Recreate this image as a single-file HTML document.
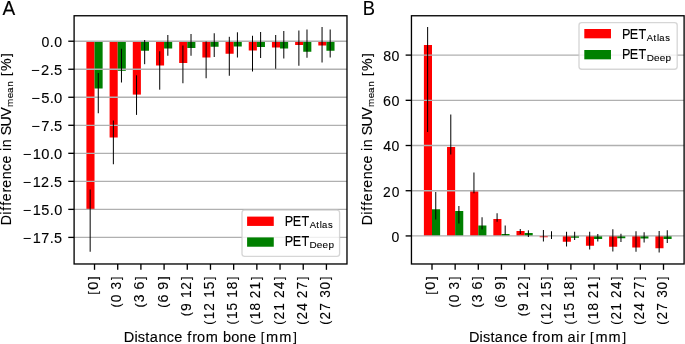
<!DOCTYPE html>
<html><head><meta charset="utf-8"><style>html,body{margin:0;padding:0;background:#fff;width:685px;height:344px;overflow:hidden}svg{display:block;will-change:transform}</style></head><body>
<svg width="685" height="344" viewBox="0 0 685 344" font-family="Liberation Sans, sans-serif" fill="#000"><style>text{stroke:#000;stroke-width:0.12px}</style>
<rect width="685" height="344" fill="#fff"/>
<rect x="86.41" y="41.22" width="8.11" height="168.78" fill="#ff0000"/>
<rect x="94.52" y="41.22" width="8.11" height="47.28" fill="#008000"/>
<rect x="109.60" y="41.22" width="8.11" height="96.28" fill="#ff0000"/>
<rect x="117.71" y="41.22" width="8.11" height="29.58" fill="#008000"/>
<rect x="132.79" y="41.22" width="8.11" height="53.38" fill="#ff0000"/>
<rect x="140.90" y="41.22" width="8.11" height="9.53" fill="#008000"/>
<rect x="155.98" y="41.22" width="8.11" height="24.28" fill="#ff0000"/>
<rect x="164.09" y="41.22" width="8.11" height="7.28" fill="#008000"/>
<rect x="179.17" y="41.22" width="8.11" height="21.78" fill="#ff0000"/>
<rect x="187.28" y="41.22" width="8.11" height="6.78" fill="#008000"/>
<rect x="202.36" y="41.22" width="8.11" height="16.28" fill="#ff0000"/>
<rect x="210.47" y="41.22" width="8.11" height="5.53" fill="#008000"/>
<rect x="225.55" y="41.22" width="8.11" height="12.53" fill="#ff0000"/>
<rect x="233.66" y="41.22" width="8.11" height="5.28" fill="#008000"/>
<rect x="248.74" y="41.22" width="8.11" height="9.28" fill="#ff0000"/>
<rect x="256.85" y="41.22" width="8.11" height="5.78" fill="#008000"/>
<rect x="271.93" y="41.22" width="8.11" height="6.28" fill="#ff0000"/>
<rect x="280.04" y="41.22" width="8.11" height="7.28" fill="#008000"/>
<rect x="295.12" y="41.22" width="8.11" height="3.78" fill="#ff0000"/>
<rect x="303.23" y="41.22" width="8.11" height="10.53" fill="#008000"/>
<rect x="318.31" y="41.22" width="8.11" height="4.28" fill="#ff0000"/>
<rect x="326.42" y="41.22" width="8.11" height="9.53" fill="#008000"/>
<line x1="74.10" y1="41.22" x2="346.98" y2="41.22" stroke="#b0b0b0" stroke-width="1.33"/>
<line x1="74.10" y1="69.25" x2="346.98" y2="69.25" stroke="#b0b0b0" stroke-width="1.33"/>
<line x1="74.10" y1="97.27" x2="346.98" y2="97.27" stroke="#b0b0b0" stroke-width="1.33"/>
<line x1="74.10" y1="125.30" x2="346.98" y2="125.30" stroke="#b0b0b0" stroke-width="1.33"/>
<line x1="74.10" y1="153.32" x2="346.98" y2="153.32" stroke="#b0b0b0" stroke-width="1.33"/>
<line x1="74.10" y1="181.34" x2="346.98" y2="181.34" stroke="#b0b0b0" stroke-width="1.33"/>
<line x1="74.10" y1="209.37" x2="346.98" y2="209.37" stroke="#b0b0b0" stroke-width="1.33"/>
<line x1="74.10" y1="237.40" x2="346.98" y2="237.40" stroke="#b0b0b0" stroke-width="1.33"/>
<line x1="90.17" y1="189.50" x2="90.17" y2="251.75" stroke="#000" stroke-width="1"/>
<line x1="98.27" y1="73.00" x2="98.27" y2="113.25" stroke="#000" stroke-width="1"/>
<line x1="113.36" y1="120.50" x2="113.36" y2="164.25" stroke="#000" stroke-width="1"/>
<line x1="121.46" y1="48.75" x2="121.46" y2="82.50" stroke="#000" stroke-width="1"/>
<line x1="136.54" y1="75.30" x2="136.54" y2="114.90" stroke="#000" stroke-width="1"/>
<line x1="144.66" y1="40.00" x2="144.66" y2="64.20" stroke="#000" stroke-width="1"/>
<line x1="159.73" y1="51.25" x2="159.73" y2="89.70" stroke="#000" stroke-width="1"/>
<line x1="167.84" y1="35.00" x2="167.84" y2="55.75" stroke="#000" stroke-width="1"/>
<line x1="182.92" y1="45.50" x2="182.92" y2="83.25" stroke="#000" stroke-width="1"/>
<line x1="191.03" y1="34.00" x2="191.03" y2="55.75" stroke="#000" stroke-width="1"/>
<line x1="206.11" y1="41.50" x2="206.11" y2="78.25" stroke="#000" stroke-width="1"/>
<line x1="214.22" y1="33.25" x2="214.22" y2="57.00" stroke="#000" stroke-width="1"/>
<line x1="229.31" y1="36.80" x2="229.31" y2="75.75" stroke="#000" stroke-width="1"/>
<line x1="237.42" y1="32.30" x2="237.42" y2="57.50" stroke="#000" stroke-width="1"/>
<line x1="252.50" y1="35.75" x2="252.50" y2="71.50" stroke="#000" stroke-width="1"/>
<line x1="260.61" y1="32.00" x2="260.61" y2="58.00" stroke="#000" stroke-width="1"/>
<line x1="275.69" y1="35.00" x2="275.69" y2="68.75" stroke="#000" stroke-width="1"/>
<line x1="283.80" y1="31.00" x2="283.80" y2="58.50" stroke="#000" stroke-width="1"/>
<line x1="298.88" y1="30.50" x2="298.88" y2="65.75" stroke="#000" stroke-width="1"/>
<line x1="306.99" y1="29.50" x2="306.99" y2="57.75" stroke="#000" stroke-width="1"/>
<line x1="322.06" y1="27.00" x2="322.06" y2="62.50" stroke="#000" stroke-width="1"/>
<line x1="330.18" y1="29.50" x2="330.18" y2="57.50" stroke="#000" stroke-width="1"/>
<rect x="74.10" y="15.76" width="272.88" height="248.22" fill="none" stroke="#000" stroke-width="1.33"/>
<line x1="68.27" y1="41.22" x2="74.10" y2="41.22" stroke="#000" stroke-width="1.33"/>
<line x1="68.27" y1="69.25" x2="74.10" y2="69.25" stroke="#000" stroke-width="1.33"/>
<line x1="68.27" y1="97.27" x2="74.10" y2="97.27" stroke="#000" stroke-width="1.33"/>
<line x1="68.27" y1="125.30" x2="74.10" y2="125.30" stroke="#000" stroke-width="1.33"/>
<line x1="68.27" y1="153.32" x2="74.10" y2="153.32" stroke="#000" stroke-width="1.33"/>
<line x1="68.27" y1="181.34" x2="74.10" y2="181.34" stroke="#000" stroke-width="1.33"/>
<line x1="68.27" y1="209.37" x2="74.10" y2="209.37" stroke="#000" stroke-width="1.33"/>
<line x1="68.27" y1="237.40" x2="74.10" y2="237.40" stroke="#000" stroke-width="1.33"/>
<line x1="94.52" y1="263.98" x2="94.52" y2="269.81" stroke="#000" stroke-width="1.33"/>
<line x1="117.71" y1="263.98" x2="117.71" y2="269.81" stroke="#000" stroke-width="1.33"/>
<line x1="140.90" y1="263.98" x2="140.90" y2="269.81" stroke="#000" stroke-width="1.33"/>
<line x1="164.09" y1="263.98" x2="164.09" y2="269.81" stroke="#000" stroke-width="1.33"/>
<line x1="187.28" y1="263.98" x2="187.28" y2="269.81" stroke="#000" stroke-width="1.33"/>
<line x1="210.47" y1="263.98" x2="210.47" y2="269.81" stroke="#000" stroke-width="1.33"/>
<line x1="233.66" y1="263.98" x2="233.66" y2="269.81" stroke="#000" stroke-width="1.33"/>
<line x1="256.85" y1="263.98" x2="256.85" y2="269.81" stroke="#000" stroke-width="1.33"/>
<line x1="280.04" y1="263.98" x2="280.04" y2="269.81" stroke="#000" stroke-width="1.33"/>
<line x1="303.23" y1="263.98" x2="303.23" y2="269.81" stroke="#000" stroke-width="1.33"/>
<line x1="326.42" y1="263.98" x2="326.42" y2="269.81" stroke="#000" stroke-width="1.33"/>
<rect x="423.89" y="45.00" width="8.11" height="190.93" fill="#ff0000"/>
<rect x="432.00" y="209.25" width="8.11" height="26.68" fill="#008000"/>
<rect x="447.04" y="147.00" width="8.11" height="88.93" fill="#ff0000"/>
<rect x="455.15" y="211.00" width="8.11" height="24.93" fill="#008000"/>
<rect x="470.19" y="191.25" width="8.11" height="44.68" fill="#ff0000"/>
<rect x="478.30" y="225.50" width="8.11" height="10.43" fill="#008000"/>
<rect x="493.34" y="219.00" width="8.11" height="16.93" fill="#ff0000"/>
<rect x="501.45" y="234.00" width="8.11" height="1.93" fill="#008000"/>
<rect x="516.49" y="231.00" width="8.11" height="4.93" fill="#ff0000"/>
<rect x="524.60" y="233.00" width="8.11" height="2.93" fill="#008000"/>
<rect x="539.64" y="235.93" width="8.11" height="1.32" fill="#ff0000"/>
<rect x="547.75" y="235.80" width="8.11" height="0.13" fill="#008000"/>
<rect x="562.79" y="235.93" width="8.11" height="5.82" fill="#ff0000"/>
<rect x="570.90" y="235.93" width="8.11" height="1.82" fill="#008000"/>
<rect x="585.94" y="235.93" width="8.11" height="9.82" fill="#ff0000"/>
<rect x="594.05" y="235.93" width="8.11" height="3.07" fill="#008000"/>
<rect x="609.09" y="235.93" width="8.11" height="10.82" fill="#ff0000"/>
<rect x="617.20" y="235.93" width="8.11" height="2.32" fill="#008000"/>
<rect x="632.24" y="235.93" width="8.11" height="11.57" fill="#ff0000"/>
<rect x="640.35" y="235.93" width="8.11" height="2.57" fill="#008000"/>
<rect x="655.39" y="235.93" width="8.11" height="12.32" fill="#ff0000"/>
<rect x="663.50" y="235.93" width="8.11" height="3.07" fill="#008000"/>
<line x1="411.45" y1="235.93" x2="684.10" y2="235.93" stroke="#b0b0b0" stroke-width="1.33"/>
<line x1="411.45" y1="190.72" x2="684.10" y2="190.72" stroke="#b0b0b0" stroke-width="1.33"/>
<line x1="411.45" y1="145.51" x2="684.10" y2="145.51" stroke="#b0b0b0" stroke-width="1.33"/>
<line x1="411.45" y1="100.31" x2="684.10" y2="100.31" stroke="#b0b0b0" stroke-width="1.33"/>
<line x1="411.45" y1="55.10" x2="684.10" y2="55.10" stroke="#b0b0b0" stroke-width="1.33"/>
<line x1="427.64" y1="27.00" x2="427.64" y2="132.00" stroke="#000" stroke-width="1"/>
<line x1="435.75" y1="192.00" x2="435.75" y2="219.50" stroke="#000" stroke-width="1"/>
<line x1="450.79" y1="114.50" x2="450.79" y2="154.50" stroke="#000" stroke-width="1"/>
<line x1="458.90" y1="206.00" x2="458.90" y2="223.50" stroke="#000" stroke-width="1"/>
<line x1="473.94" y1="172.50" x2="473.94" y2="193.25" stroke="#000" stroke-width="1"/>
<line x1="482.06" y1="217.25" x2="482.06" y2="229.50" stroke="#000" stroke-width="1"/>
<line x1="497.09" y1="213.25" x2="497.09" y2="221.75" stroke="#000" stroke-width="1"/>
<line x1="505.20" y1="225.50" x2="505.20" y2="235.00" stroke="#000" stroke-width="1"/>
<line x1="520.25" y1="229.00" x2="520.25" y2="234.00" stroke="#000" stroke-width="1"/>
<line x1="528.36" y1="230.30" x2="528.36" y2="237.00" stroke="#000" stroke-width="1"/>
<line x1="543.40" y1="230.00" x2="543.40" y2="241.50" stroke="#000" stroke-width="1"/>
<line x1="551.50" y1="231.25" x2="551.50" y2="239.00" stroke="#000" stroke-width="1"/>
<line x1="566.55" y1="231.75" x2="566.55" y2="246.50" stroke="#000" stroke-width="1"/>
<line x1="574.65" y1="231.75" x2="574.65" y2="240.00" stroke="#000" stroke-width="1"/>
<line x1="589.70" y1="231.75" x2="589.70" y2="249.50" stroke="#000" stroke-width="1"/>
<line x1="597.80" y1="234.00" x2="597.80" y2="241.50" stroke="#000" stroke-width="1"/>
<line x1="612.85" y1="229.25" x2="612.85" y2="251.50" stroke="#000" stroke-width="1"/>
<line x1="620.96" y1="233.75" x2="620.96" y2="242.00" stroke="#000" stroke-width="1"/>
<line x1="636.00" y1="231.25" x2="636.00" y2="251.75" stroke="#000" stroke-width="1"/>
<line x1="644.11" y1="232.25" x2="644.11" y2="242.50" stroke="#000" stroke-width="1"/>
<line x1="659.15" y1="231.00" x2="659.15" y2="252.50" stroke="#000" stroke-width="1"/>
<line x1="667.25" y1="230.25" x2="667.25" y2="243.00" stroke="#000" stroke-width="1"/>
<rect x="411.45" y="15.76" width="272.65" height="248.22" fill="none" stroke="#000" stroke-width="1.33"/>
<line x1="405.62" y1="235.93" x2="411.45" y2="235.93" stroke="#000" stroke-width="1.33"/>
<line x1="405.62" y1="190.72" x2="411.45" y2="190.72" stroke="#000" stroke-width="1.33"/>
<line x1="405.62" y1="145.51" x2="411.45" y2="145.51" stroke="#000" stroke-width="1.33"/>
<line x1="405.62" y1="100.31" x2="411.45" y2="100.31" stroke="#000" stroke-width="1.33"/>
<line x1="405.62" y1="55.10" x2="411.45" y2="55.10" stroke="#000" stroke-width="1.33"/>
<line x1="432.00" y1="263.98" x2="432.00" y2="269.81" stroke="#000" stroke-width="1.33"/>
<line x1="455.15" y1="263.98" x2="455.15" y2="269.81" stroke="#000" stroke-width="1.33"/>
<line x1="478.30" y1="263.98" x2="478.30" y2="269.81" stroke="#000" stroke-width="1.33"/>
<line x1="501.45" y1="263.98" x2="501.45" y2="269.81" stroke="#000" stroke-width="1.33"/>
<line x1="524.60" y1="263.98" x2="524.60" y2="269.81" stroke="#000" stroke-width="1.33"/>
<line x1="547.75" y1="263.98" x2="547.75" y2="269.81" stroke="#000" stroke-width="1.33"/>
<line x1="570.90" y1="263.98" x2="570.90" y2="269.81" stroke="#000" stroke-width="1.33"/>
<line x1="594.05" y1="263.98" x2="594.05" y2="269.81" stroke="#000" stroke-width="1.33"/>
<line x1="617.20" y1="263.98" x2="617.20" y2="269.81" stroke="#000" stroke-width="1.33"/>
<line x1="640.35" y1="263.98" x2="640.35" y2="269.81" stroke="#000" stroke-width="1.33"/>
<line x1="663.50" y1="263.98" x2="663.50" y2="269.81" stroke="#000" stroke-width="1.33"/>
<text transform="translate(98.12,295.05) rotate(-90) scale(1.0355,1)"><tspan x="0.26" font-size="12.75" dy="-0.89">[</tspan><tspan x="5.23" font-size="14.13" dy="0.89">0</tspan><tspan x="14.50" font-size="12.75" dy="-0.89">]</tspan></text>
<text transform="translate(121.30,307.80) rotate(-90) scale(0.9743,1)"><tspan x="0.23" font-size="12.75" dy="-0.89">(</tspan><tspan x="5.81 14.11 18.91" font-size="14.13" dy="0.89">0&#160;3</tspan><tspan x="28.58" font-size="12.75" dy="-0.89">]</tspan></text>
<text transform="translate(144.49,307.80) rotate(-90) scale(0.9859,1)"><tspan x="0.20" font-size="12.75" dy="-0.89">(</tspan><tspan x="5.71 13.95 18.63" font-size="14.13" dy="0.89">3&#160;6</tspan><tspan x="28.23" font-size="12.75" dy="-0.89">]</tspan></text>
<text transform="translate(167.67,307.92) rotate(-90) scale(1.0110,1)"><tspan x="0.13" font-size="12.75" dy="-0.89">(</tspan><tspan x="5.46 13.60 18.03" font-size="14.13" dy="0.89">6&#160;9</tspan><tspan x="27.62" font-size="12.75" dy="-0.89">]</tspan></text>
<text transform="translate(190.86,316.55) rotate(-90) scale(0.9779,1)"><tspan x="0.22" font-size="12.75" dy="-0.89">(</tspan><tspan x="5.73 14.19 18.87 27.45" font-size="14.13" dy="0.89">9&#160;12</tspan><tspan x="37.42" font-size="12.75" dy="-0.89">]</tspan></text>
<text transform="translate(214.04,324.92) rotate(-90) scale(0.9537,1)"><tspan x="0.29" font-size="12.75" dy="-0.89">(</tspan><tspan x="5.95 14.75 23.46 28.37 37.29" font-size="14.13" dy="0.89">12&#160;15</tspan><tspan x="47.18" font-size="12.75" dy="-0.89">]</tspan></text>
<text transform="translate(237.22,324.67) rotate(-90) scale(0.9636,1)"><tspan x="0.26" font-size="12.75" dy="-0.89">(</tspan><tspan x="5.85 14.69 23.09 27.90 36.79" font-size="14.13" dy="0.89">15&#160;18</tspan><tspan x="46.42" font-size="12.75" dy="-0.89">]</tspan></text>
<text transform="translate(260.41,324.80) rotate(-90) scale(0.9680,1)"><tspan x="0.25" font-size="12.75" dy="-0.89">(</tspan><tspan x="5.80 14.66 22.86 27.52 36.54" font-size="14.13" dy="0.89">18&#160;21</tspan><tspan x="46.34" font-size="12.75" dy="-0.89">]</tspan></text>
<text transform="translate(283.59,324.92) rotate(-90) scale(0.9677,1)"><tspan x="0.25" font-size="12.75" dy="-0.89">(</tspan><tspan x="5.69 14.72 23.12 27.78 36.87" font-size="14.13" dy="0.89">21&#160;24</tspan><tspan x="46.48" font-size="12.75" dy="-0.89">]</tspan></text>
<text transform="translate(306.78,324.92) rotate(-90) scale(0.9721,1)"><tspan x="0.24" font-size="12.75" dy="-0.89">(</tspan><tspan x="5.65 14.70 22.89 27.51 36.54" font-size="14.13" dy="0.89">24&#160;27</tspan><tspan x="46.26" font-size="12.75" dy="-0.89">]</tspan></text>
<text transform="translate(329.96,324.92) rotate(-90) scale(0.9710,1)"><tspan x="0.24" font-size="12.75" dy="-0.89">(</tspan><tspan x="5.66 14.70 23.04 27.87 36.61" font-size="14.13" dy="0.89">27&#160;30</tspan><tspan x="46.32" font-size="12.75" dy="-0.89">]</tspan></text>
<text transform="translate(123.91,342.09) scale(1.0309,1)"><tspan x="-0.11 10.18 13.51 20.79 25.00 33.66 41.58 48.94 56.87 61.47 66.26 70.96 79.39 91.67 96.04 104.07 112.24 120.36 128.29" font-size="14.13">Distance&#160;from&#160;bone&#160;</tspan><tspan x="132.68" font-size="12.75" dy="-0.89">[</tspan><tspan x="137.95 150.68" font-size="14.13" dy="0.89">mm</tspan><tspan x="164.19" font-size="12.75" dy="-0.89">]</tspan></text>
<text transform="translate(41.18,47.12) scale(0.9972,1)" x="0.32 8.68 13.11" font-size="14.13">0.0</text>
<text transform="translate(29.81,75.15) scale(1.0392,1)" x="1.25 10.81 19.19 23.32" font-size="14.13">−2.5</text>
<text transform="translate(29.93,103.17) scale(1.0493,1)" x="1.19 10.78 18.87 22.98" font-size="14.13">−5.0</text>
<text transform="translate(29.93,131.19) scale(1.0436,1)" x="1.22 10.89 18.99 23.08" font-size="14.13">−7.5</text>
<text transform="translate(21.43,159.22) scale(1.0409,1)" x="1.24 10.87 19.12 27.21 31.37" font-size="14.13">−10.0</text>
<text transform="translate(21.31,187.25) scale(1.0195,1)" x="1.35 11.19 19.43 27.94 32.18" font-size="14.13">−12.5</text>
<text transform="translate(21.43,215.27) scale(1.0275,1)" x="1.31 11.07 19.37 27.59 31.83" font-size="14.13">−15.0</text>
<text transform="translate(21.43,243.30) scale(1.0228,1)" x="1.33 11.14 19.50 27.72 31.94" font-size="14.13">−17.5</text>
<text transform="translate(435.45,295.05) rotate(-90) scale(1.0355,1)"><tspan x="0.26" font-size="12.75" dy="-0.89">[</tspan><tspan x="5.23" font-size="14.13" dy="0.89">0</tspan><tspan x="14.50" font-size="12.75" dy="-0.89">]</tspan></text>
<text transform="translate(458.62,307.80) rotate(-90) scale(0.9743,1)"><tspan x="0.23" font-size="12.75" dy="-0.89">(</tspan><tspan x="5.81 14.11 18.91" font-size="14.13" dy="0.89">0&#160;3</tspan><tspan x="28.58" font-size="12.75" dy="-0.89">]</tspan></text>
<text transform="translate(481.78,307.80) rotate(-90) scale(0.9859,1)"><tspan x="0.20" font-size="12.75" dy="-0.89">(</tspan><tspan x="5.71 13.95 18.63" font-size="14.13" dy="0.89">3&#160;6</tspan><tspan x="28.23" font-size="12.75" dy="-0.89">]</tspan></text>
<text transform="translate(504.95,307.92) rotate(-90) scale(1.0110,1)"><tspan x="0.13" font-size="12.75" dy="-0.89">(</tspan><tspan x="5.46 13.60 18.03" font-size="14.13" dy="0.89">6&#160;9</tspan><tspan x="27.62" font-size="12.75" dy="-0.89">]</tspan></text>
<text transform="translate(528.11,316.55) rotate(-90) scale(0.9779,1)"><tspan x="0.22" font-size="12.75" dy="-0.89">(</tspan><tspan x="5.73 14.19 18.87 27.45" font-size="14.13" dy="0.89">9&#160;12</tspan><tspan x="37.42" font-size="12.75" dy="-0.89">]</tspan></text>
<text transform="translate(551.27,324.92) rotate(-90) scale(0.9537,1)"><tspan x="0.29" font-size="12.75" dy="-0.89">(</tspan><tspan x="5.95 14.75 23.46 28.37 37.29" font-size="14.13" dy="0.89">12&#160;15</tspan><tspan x="47.18" font-size="12.75" dy="-0.89">]</tspan></text>
<text transform="translate(574.44,324.67) rotate(-90) scale(0.9636,1)"><tspan x="0.26" font-size="12.75" dy="-0.89">(</tspan><tspan x="5.85 14.69 23.09 27.90 36.79" font-size="14.13" dy="0.89">15&#160;18</tspan><tspan x="46.42" font-size="12.75" dy="-0.89">]</tspan></text>
<text transform="translate(597.60,324.80) rotate(-90) scale(0.9680,1)"><tspan x="0.25" font-size="12.75" dy="-0.89">(</tspan><tspan x="5.80 14.66 22.86 27.52 36.54" font-size="14.13" dy="0.89">18&#160;21</tspan><tspan x="46.34" font-size="12.75" dy="-0.89">]</tspan></text>
<text transform="translate(620.77,324.92) rotate(-90) scale(0.9677,1)"><tspan x="0.25" font-size="12.75" dy="-0.89">(</tspan><tspan x="5.69 14.72 23.12 27.78 36.87" font-size="14.13" dy="0.89">21&#160;24</tspan><tspan x="46.48" font-size="12.75" dy="-0.89">]</tspan></text>
<text transform="translate(643.93,324.92) rotate(-90) scale(0.9721,1)"><tspan x="0.24" font-size="12.75" dy="-0.89">(</tspan><tspan x="5.65 14.70 22.89 27.51 36.54" font-size="14.13" dy="0.89">24&#160;27</tspan><tspan x="46.26" font-size="12.75" dy="-0.89">]</tspan></text>
<text transform="translate(667.10,324.92) rotate(-90) scale(0.9710,1)"><tspan x="0.24" font-size="12.75" dy="-0.89">(</tspan><tspan x="5.66 14.70 23.04 27.87 36.61" font-size="14.13" dy="0.89">27&#160;30</tspan><tspan x="46.32" font-size="12.75" dy="-0.89">]</tspan></text>
<text transform="translate(469.09,342.09) scale(1.0271,1)"><tspan x="-0.09 10.22 13.57 20.87 25.11 33.80 41.75 49.14 57.08 61.70 66.52 71.24 79.70 92.01 95.70 104.42 108.39 113.31" font-size="14.13">Distance&#160;from&#160;air&#160;</tspan><tspan x="117.73" font-size="12.75" dy="-0.89">[</tspan><tspan x="123.03 135.81" font-size="14.13" dy="0.89">mm</tspan><tspan x="149.36" font-size="12.75" dy="-0.89">]</tspan></text>
<text transform="translate(391.28,241.83) scale(0.9949,1)" x="0.33" font-size="14.13">0</text>
<text transform="translate(382.66,196.62) scale(0.9773,1)" x="0.23 9.23" font-size="14.13">20</text>
<text transform="translate(382.91,151.41) scale(0.9949,1)" x="0.33 8.75" font-size="14.13">40</text>
<text transform="translate(382.78,106.21) scale(1.0119,1)" x="0.26 8.66" font-size="14.13">60</text>
<text transform="translate(382.91,61.00) scale(1.0002,1)" x="0.31 8.68" font-size="14.13">80</text>
<rect x="579.00" y="22.65" width="98.20" height="46.60" rx="2.67" ry="2.67" fill="#fff" fill-opacity="0.8" stroke="#ccc" stroke-opacity="0.8" stroke-width="1.33"/>
<rect x="584.30" y="29.00" width="26.67" height="9.33" fill="#ff0000"/>
<rect x="584.30" y="50.00" width="26.67" height="9.33" fill="#008000"/>
<text transform="translate(621.90,38.60) scale(0.8963,1)" x="0.04 8.89 18.50" font-size="14.13">PET</text>
<text transform="translate(646.71,40.73) scale(0.9548,1)" x="0.04 7.06 10.73 13.11 19.39" font-size="9.89">Atlas</text>
<text transform="translate(621.90,59.30) scale(0.8963,1)" x="0.04 8.89 18.50" font-size="14.13">PET</text>
<text transform="translate(646.71,61.43) scale(1.0082,1)" x="0.01 7.18 12.89 18.72" font-size="9.89">Deep</text>
<rect x="242.00" y="210.10" width="97.60" height="46.30" rx="2.67" ry="2.67" fill="#fff" fill-opacity="0.8" stroke="#ccc" stroke-opacity="0.8" stroke-width="1.33"/>
<rect x="247.10" y="216.60" width="26.67" height="9.33" fill="#ff0000"/>
<rect x="247.10" y="237.40" width="26.67" height="9.33" fill="#008000"/>
<text transform="translate(284.80,225.60) scale(0.8963,1)" x="0.04 8.89 18.50" font-size="14.13">PET</text>
<text transform="translate(309.61,227.73) scale(0.9548,1)" x="0.04 7.06 10.73 13.11 19.39" font-size="9.89">Atlas</text>
<text transform="translate(284.80,246.30) scale(0.8963,1)" x="0.04 8.89 18.50" font-size="14.13">PET</text>
<text transform="translate(309.61,248.43) scale(1.0082,1)" x="0.01 7.18 12.89 18.72" font-size="9.89">Deep</text>
<text transform="translate(11.00,225.20) rotate(-90) scale(1.0030,1)" x="0.04 10.50 14.50 19.37 23.87 32.54 37.45 45.80 53.93 61.50 69.54 74.06 77.83 85.99 89.81 98.47 108.13" font-size="14.13">Difference in SUV</text>
<text transform="translate(13.13,107.50) rotate(-90) scale(0.9960,1)" x="0.47 9.19 14.58 20.82" font-size="9.89">mean</text>
<text transform="translate(11.00,76.34) rotate(-90) scale(1.0059,1)"><tspan x="0.34" font-size="12.75" dy="-0.89">[</tspan><tspan x="5.24" font-size="14.13" dy="0.89">%</tspan><tspan x="19.19" font-size="12.75" dy="-0.89">]</tspan></text>
<text transform="translate(372.30,225.20) rotate(-90) scale(1.0030,1)" x="0.04 10.50 14.50 19.37 23.87 32.54 37.45 45.80 53.93 61.50 69.54 74.06 77.83 85.99 89.81 98.47 108.13" font-size="14.13">Difference in SUV</text>
<text transform="translate(374.43,107.50) rotate(-90) scale(0.9960,1)" x="0.47 9.19 14.58 20.82" font-size="9.89">mean</text>
<text transform="translate(372.30,76.34) rotate(-90) scale(1.0059,1)"><tspan x="0.34" font-size="12.75" dy="-0.89">[</tspan><tspan x="5.24" font-size="14.13" dy="0.89">%</tspan><tspan x="19.19" font-size="12.75" dy="-0.89">]</tspan></text>
<text transform="translate(2.30,15.00) scale(0.9507,1)" x="0.12" font-size="20.03">A</text>
<text transform="translate(362.40,14.50) scale(0.9169,1)" x="0.38" font-size="20.03">B</text>
</svg>
</body></html>
